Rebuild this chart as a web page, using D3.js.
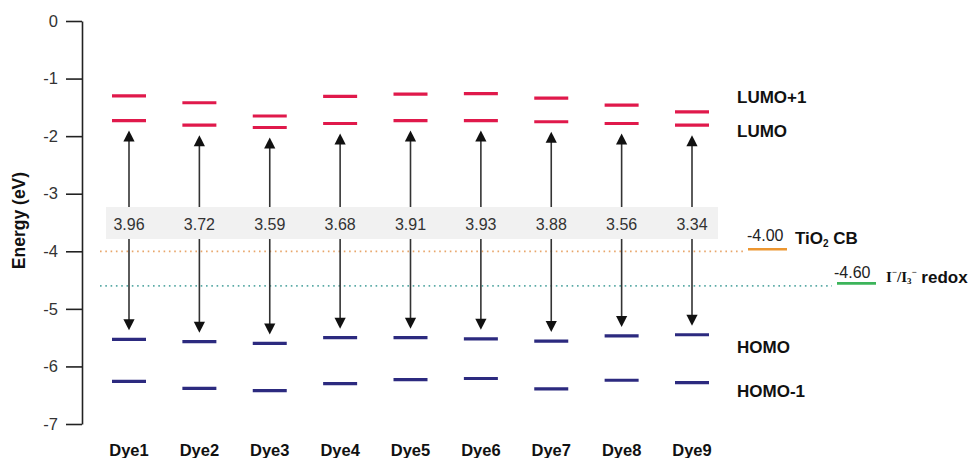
<!DOCTYPE html>
<html>
<head>
<meta charset="utf-8">
<script src="https://cdn.jsdelivr.net/npm/d3@7"></script>
<style>
  html, body { margin: 0; padding: 0; background: #fff; }
  svg { display: block; font-family: "Liberation Sans", Arial, sans-serif; }
</style>
</head>
<body>
<svg id="chart" width="971" height="458"></svg>
<script>
// Frontier orbital energies (eV) of the nine dyes
const dyes      = ["Dye1", "Dye2", "Dye3", "Dye4", "Dye5", "Dye6", "Dye7", "Dye8", "Dye9"];
const lumoPlus1 = [-1.30, -1.42, -1.65, -1.31, -1.27, -1.26, -1.34, -1.46, -1.58];
const lumo      = [-1.73, -1.81, -1.85, -1.78, -1.73, -1.73, -1.75, -1.78, -1.81];
const homo      = [-5.53, -5.57, -5.60, -5.50, -5.50, -5.52, -5.56, -5.47, -5.45];
const homoMinus1= [-6.26, -6.38, -6.42, -6.30, -6.23, -6.21, -6.39, -6.24, -6.28];
const gapLabels = ["3.96", "3.72", "3.59", "3.68", "3.91", "3.93", "3.88", "3.56", "3.34"];
const yTicks    = [0, -1, -2, -3, -4, -5, -6, -7];
const tio2CB    = -4.00;
const redox     = -4.60;

// plain hyphen-minus for negative numbers
const hyphen = f => v => f(v).replace("\u2212", "-");

const svg = d3.select("#chart");

const y = d3.scaleLinear().domain([0, -7]).range([21, 424]);
const x = d3.scalePoint().domain(dyes).range([129, 692]);

const barHalf = 17;
const RED = "#e0194b", NAVY = "#2c2a7f", ORANGE = "#ec9630", GREEN = "#3cb45a";

// y axis: ticks pointing left, line at x = 82
const axisG = svg.append("g").attr("transform", "translate(82,0)")
  .call(d3.axisLeft(y).tickValues(yTicks).tickSize(16).tickSizeOuter(0).tickPadding(8)
    .tickFormat(hyphen(d3.format("d"))));
axisG.select(".domain").attr("stroke", "#222").attr("stroke-width", 1.6);
axisG.selectAll(".tick line").attr("stroke", "#222").attr("stroke-width", 1.6);
axisG.selectAll(".tick text").attr("fill", "#333").attr("font-size", 16.5)
  .attr("font-family", "Liberation Sans, Arial, sans-serif");

svg.append("text")
  .attr("transform", `translate(25,${y(-3.5) - 2}) rotate(-90)`)
  .attr("text-anchor", "middle")
  .attr("font-size", 17.5).attr("font-weight", "bold").attr("fill", "#111")
  .text("Energy (eV)");

// dotted reference levels
function dotted(level, x2, color) {
  svg.append("line")
    .attr("x1", 100).attr("x2", x2)
    .attr("y1", y(level)).attr("y2", y(level))
    .attr("stroke", color).attr("stroke-width", 1.8)
    .attr("stroke-dasharray", "1.6 3.7")
    .attr("stroke-linecap", "butt");
}
dotted(tio2CB, 745, "#e8a66a");
dotted(redox, 832, "#5aaaa6");

// arrows between LUMO and HOMO
const arrowTop = i => y(lumo[i]) + 10;
const arrowBot = i => y(homo[i]) - 9;
const head = 11, headW = 5.6;

const arrows = svg.append("g");
dyes.forEach((d, i) => {
  const cx = x(d);
  arrows.append("line")
    .attr("x1", cx).attr("x2", cx)
    .attr("y1", arrowTop(i) + head - 1).attr("y2", arrowBot(i) - head + 1)
    .attr("stroke", "#333").attr("stroke-width", 1.6);
  arrows.append("path")
    .attr("d", `M${cx},${arrowTop(i)} L${cx - headW},${arrowTop(i) + head} L${cx + headW},${arrowTop(i) + head} Z`)
    .attr("fill", "#111");
  arrows.append("path")
    .attr("d", `M${cx},${arrowBot(i)} L${cx - headW},${arrowBot(i) - head} L${cx + headW},${arrowBot(i) - head} Z`)
    .attr("fill", "#111");
});

// shaded band holding the gap values
svg.append("rect")
  .attr("x", 106).attr("y", 207).attr("width", 612).attr("height", 32)
  .attr("fill", "#f1f1f1");

svg.append("g").selectAll("text").data(dyes).join("text")
  .attr("x", d => x(d)).attr("y", 224)
  .attr("text-anchor", "middle").attr("dominant-baseline", "central")
  .attr("font-size", 16).attr("fill", "#333")
  .text((d, i) => gapLabels[i]);

// energy level bars
function levels(values, color) {
  svg.append("g").selectAll("line").data(dyes).join("line")
    .attr("x1", d => x(d) - barHalf).attr("x2", d => x(d) + barHalf)
    .attr("y1", (d, i) => y(values[i])).attr("y2", (d, i) => y(values[i]))
    .attr("stroke", color).attr("stroke-width", 3.2);
}
levels(lumoPlus1, RED);
levels(lumo, RED);
levels(homo, NAVY);
levels(homoMinus1, NAVY);

// row labels on the right
const rowLabels = [["LUMO+1", 97], ["LUMO", 131.5], ["HOMO", 347.5], ["HOMO-1", 391.5]];
svg.append("g").selectAll("text").data(rowLabels).join("text")
  .attr("x", 737).attr("y", d => d[1])
  .attr("dominant-baseline", "central")
  .attr("font-size", 17).attr("font-weight", "bold").attr("fill", "#111")
  .text(d => d[0]);

// dye names along the bottom
svg.append("g").selectAll("text").data(dyes).join("text")
  .attr("x", d => x(d)).attr("y", 450)
  .attr("text-anchor", "middle").attr("dominant-baseline", "central")
  .attr("font-size", 16.5).attr("font-weight", "bold").attr("fill", "#111")
  .text(d => d);

// TiO2 conduction band marker
svg.append("line")
  .attr("x1", 748).attr("x2", 787).attr("y1", y(tio2CB) - 2).attr("y2", y(tio2CB) - 2)
  .attr("stroke", ORANGE).attr("stroke-width", 2.6);
svg.append("text")
  .attr("x", 747).attr("y", 235).attr("dominant-baseline", "central")
  .attr("font-size", 16).attr("fill", "#222")
  .text(hyphen(d3.format(".2f"))(tio2CB));
const tio = svg.append("text")
  .attr("x", 795).attr("y", 238).attr("dominant-baseline", "central")
  .attr("font-size", 17).attr("font-weight", "bold").attr("fill", "#111");
tio.append("tspan").text("TiO");
tio.append("tspan").attr("font-size", 10).attr("dy", 5).text("2");
tio.append("tspan").attr("dy", -5).text(" CB");

// iodide / triiodide redox marker
svg.append("line")
  .attr("x1", 837).attr("x2", 876).attr("y1", y(redox) - 2.5).attr("y2", y(redox) - 2.5)
  .attr("stroke", GREEN).attr("stroke-width", 2.6);
svg.append("text")
  .attr("x", 834).attr("y", 272).attr("dominant-baseline", "central")
  .attr("font-size", 16).attr("fill", "#222")
  .text(hyphen(d3.format(".2f"))(redox));
const serif = "Liberation Serif, Times New Roman, serif";
const rd = svg.append("text")
  .attr("x", 886).attr("y", 277).attr("dominant-baseline", "central")
  .attr("font-weight", "bold").attr("fill", "#111");
rd.append("tspan").attr("font-family", serif).attr("font-size", 15).text("I");
rd.append("tspan").attr("font-family", serif).attr("font-size", 9).attr("dy", -5).text("\u2212");
rd.append("tspan").attr("font-family", serif).attr("font-size", 15).attr("dy", 5).text("/I");
rd.append("tspan").attr("font-family", serif).attr("font-size", 9).attr("dy", 4).text("3");
rd.append("tspan").attr("font-family", serif).attr("font-size", 9).attr("dy", -9).text("\u2212");
rd.append("tspan").attr("font-size", 17).attr("dy", 5).text(" redox");
</script>
</body>
</html>
